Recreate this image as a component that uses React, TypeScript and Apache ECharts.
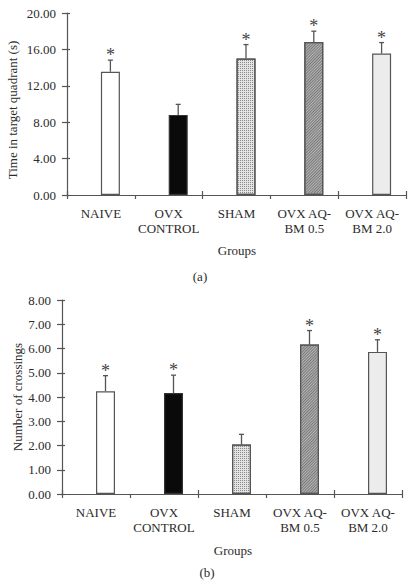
import React, { useEffect, useRef } from "react";
import * as echarts from "echarts";

const categories = ["NAIVE", "OVX\nCONTROL", "SHAM", "OVX AQ-\nBM 0.5", "OVX AQ-\nBM 2.0"];
const timeMeans = [13.55, 8.8, 15.0, 16.8, 15.55];
const timeErrors = [1.27, 1.16, 1.53, 1.2, 1.2];
const timeSig = [true, false, true, true, true];
const crossMeans = [4.24, 4.16, 2.04, 6.16, 5.86];
const crossErrors = [0.64, 0.74, 0.42, 0.58, 0.5];
const crossSig = [true, true, false, true, true];
const timeAxis = { min: 0, max: 20, interval: 4 };
const crossAxis = { min: 0, max: 8, interval: 1 };

const FONT = "Liberation Serif";
const TEXT = "#2b2b2b";
const AXIS = "#555";
const BAR_W = 19;

const barStyles = [
  { color: "#ffffff", borderColor: "#555", borderWidth: 1.2 },
  { color: "#0a0a0a", borderColor: "#333", borderWidth: 1.2 },
  {
    color: "#e4e4e4",
    borderColor: "#555",
    borderWidth: 1.2,
    decal: { symbol: "rect", symbolSize: 1, color: "#8a8a8a", dashArrayX: [1, 1], dashArrayY: [1, 1], rotation: 0 },
  },
  {
    color: "#b4b4b4",
    borderColor: "#555",
    borderWidth: 1.2,
    decal: { symbol: "rect", symbolSize: 1, color: "#7a7a7a", dashArrayX: [1, 0], dashArrayY: [1, 1], rotation: -Math.PI / 4 },
  },
  { color: "#ececec", borderColor: "#555", borderWidth: 1.2 },
];

function makeBarData(means: number[]) {
  return means.map((v, i) => ({ value: v, itemStyle: barStyles[i] }));
}

function renderErr(params: any, api: any) {
  const idx = api.value(0);
  const mean = api.value(1);
  const err = api.value(2);
  const sig = api.value(3);
  const p0 = api.coord([idx, mean]);
  const p1 = api.coord([idx, mean + err]);
  const x = p0[0] + BAR_W / 2;
  const children: any[] = [
    { type: "line", shape: { x1: x, y1: p0[1], x2: x, y2: p1[1] }, style: { stroke: "#555", lineWidth: 1.3 } },
    { type: "line", shape: { x1: x - 2.5, y1: p1[1], x2: x + 2.5, y2: p1[1] }, style: { stroke: "#555", lineWidth: 1.3 } },
  ];
  if (sig) {
    children.push({
      type: "text",
      style: {
        x,
        y: p1[1] - 5,
        text: "*",
        fill: "#444",
        font: `18px "${FONT}"`,
        textAlign: "center",
        textVerticalAlign: "middle",
      },
    });
  }
  return { type: "group", children };
}

function errData(means: number[], errs: number[], sig: boolean[]) {
  return means.map((m, i) => [i, m, errs[i], sig[i] ? 1 : 0]);
}

export default function App() {
  const ref = useRef<HTMLDivElement>(null);
  useEffect(() => {
    if (!ref.current) return;
    const chart = echarts.init(ref.current, null, { renderer: "svg" });
    const grids = [
      { left: 67, top: 13, width: 339, height: 182 },
      { left: 62, top: 300, width: 340, height: 194 },
    ];
    const axes = [timeAxis, crossAxis];
    const xAxis: any[] = [];
    const yAxis: any[] = [];
    [0, 1].forEach((g) => {
      xAxis.push({
        type: "category",
        gridIndex: g,
        data: categories,
        position: "bottom",
        axisLine: { show: true, lineStyle: { color: AXIS, width: 1.2 } },
        axisTick: { show: true, length: 4, lineStyle: { color: AXIS, width: 1.2 } },
        axisLabel: { fontFamily: FONT, fontSize: 13, color: TEXT, margin: 11, lineHeight: 15, interval: 0 },
        splitLine: { show: false },
      });
      xAxis.push({
        type: "category",
        gridIndex: g,
        data: categories,
        position: "bottom",
        axisLine: { show: false },
        axisTick: { show: true, inside: true, length: 4, lineStyle: { color: AXIS, width: 1.2 } },
        axisLabel: { show: false },
        splitLine: { show: false },
      });
      yAxis.push({
        type: "value",
        gridIndex: g,
        position: "left",
        min: axes[g].min,
        max: axes[g].max,
        interval: axes[g].interval,
        axisLine: { show: true, lineStyle: { color: AXIS, width: 1.2 } },
        axisTick: { show: true, length: 5, lineStyle: { color: AXIS, width: 1.2 } },
        axisLabel: {
          fontFamily: FONT,
          fontSize: 13,
          color: TEXT,
          margin: 11,
          formatter: (v: number) => v.toFixed(2),
        },
        splitLine: { show: false },
      });
      yAxis.push({
        type: "value",
        gridIndex: g,
        position: "left",
        min: axes[g].min,
        max: axes[g].max,
        interval: axes[g].interval,
        axisLine: { show: false },
        axisTick: { show: true, inside: true, length: 3, lineStyle: { color: AXIS, width: 1.2 } },
        axisLabel: { show: false },
        splitLine: { show: false },
      });
    });

    const means = [timeMeans, crossMeans];
    const errs = [timeErrors, crossErrors];
    const sigs = [timeSig, crossSig];
    const series: any[] = [];
    [0, 1].forEach((g) => {
      series.push({
        type: "bar",
        xAxisIndex: g * 2,
        yAxisIndex: g * 2,
        data: categories.map(() => "-"),
        barWidth: BAR_W,
        barGap: "0%",
        silent: true,
      });
      series.push({
        type: "bar",
        xAxisIndex: g * 2,
        yAxisIndex: g * 2,
        data: makeBarData(means[g]),
        barWidth: BAR_W,
        barGap: "0%",
      });
      series.push({
        type: "custom",
        xAxisIndex: g * 2,
        yAxisIndex: g * 2,
        data: errData(means[g], errs[g], sigs[g]),
        encode: { x: 0, y: 1 },
        renderItem: renderErr,
        clip: false,
        z: 5,
      });
    });

    const textStyle = (x: number, y: number, text: string, rotation = 0) => ({
      type: "text",
      x,
      y,
      rotation,
      style: {
        text,
        fill: TEXT,
        font: `13px "${FONT}"`,
        textAlign: "center",
        textVerticalAlign: "middle",
      },
    });

    chart.setOption({
      animation: false,
      aria: { enabled: false, decal: { show: false } },
      grid: grids,
      xAxis,
      yAxis,
      series,
      graphic: [
        textStyle(12, 110, "Time in target quadrant (s)", Math.PI / 2),
        textStyle(237, 250, "Groups"),
        textStyle(200, 276, "(a)"),
        textStyle(17, 397, "Number of crossings", Math.PI / 2),
        textStyle(233, 550, "Groups"),
        textStyle(207, 572, "(b)"),
      ],
    });
    return () => chart.dispose();
  }, []);
  return <div ref={ref} style={{ position: "fixed", left: 0, top: 0, width: 415, height: 585, background: "#fff" }} />;
}
